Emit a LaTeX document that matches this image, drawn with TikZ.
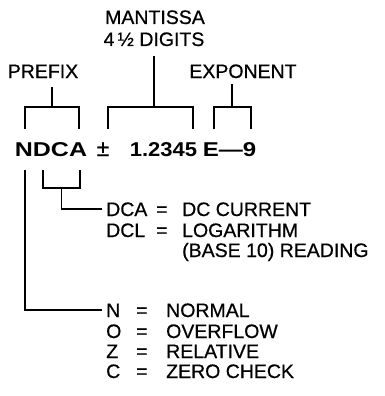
\documentclass[tikz,border=0pt]{standalone}
\usepackage{fontspec}
\usepackage{graphicx}
\setmainfont{Liberation Sans}
\newfontfamily\scanfont{Liberation Sans}[FakeBold=0.6]
\usetikzlibrary{positioning}

% one row of a code list: code, equals sign, meaning
\newcommand{\rowa}[2]{\makebox[50pt][l]{#1}\makebox[26pt][l]{=}#2}
\newcommand{\rowb}[2]{\makebox[30pt][l]{#1}\makebox[30pt][l]{=}#2}
% the readout type is wider than the bold face
\newcommand{\wide}[2]{\scalebox{#1}[1]{#2}}

\tikzset{
  fieldname/.style={font=\scanfont\fontsize{19.5}{21}\selectfont, inner sep=0pt, anchor=base},
  readout/.style={font=\fontsize{20}{24}\selectfont\bfseries, inner sep=0pt, anchor=base},
  rowtext/.style={font=\scanfont\fontsize{19.5}{21}\selectfont, inner sep=0pt, anchor=base west},
  bracket/.style={line width=1.8pt, line join=miter}
}

\begin{document}
\begin{tikzpicture}[x=1pt, y=-1pt]
  \useasboundingbox (0,0) rectangle (384,396);

  % field names
  \node[fieldname] (mant) at (155,24) {MANTISSA};
  \node[fieldname] (digits) at (154,46) {4\,½ DIGITS};
  \node[fieldname] (prefix) at (43,78) {PREFIX};
  \node[fieldname] (expo) at (243,78) {EXPONENT};

  % the readout
  \node[readout] (ndca) at (51,156) {\wide{1.25}{NDCA}};
  \node[fieldname, font=\scanfont\fontsize{23}{24}\selectfont] (pm) at (103,156) {±};
  \node[readout] (mval) at (163.5,156) {\wide{1.1}{1.2345}};
  \node[readout] (eval) at (229.5,156) {\wide{1.2}{E—9}};

  % brackets above
  \coordinate (pfxL) at (25,129);
  \coordinate (pfxR) at (79,129);
  \coordinate (pfxT) at (52,107);
  \draw[bracket] (pfxL) -- ++(0,-22) -| (pfxR);
  \draw[bracket, shorten >=9pt] (pfxT) -- (pfxT |- prefix.south);

  \coordinate (manL) at (108,129);
  \coordinate (manR) at (193,129);
  \coordinate (manT) at (154,107);
  \draw[bracket] (manL) -- ++(0,-22) -| (manR);
  \draw[bracket, shorten >=10pt] (manT) -- (manT |- digits.south);

  \coordinate (expL) at (214,129);
  \coordinate (expR) at (251,129);
  \coordinate (expT) at (232,107);
  \draw[bracket] (expL) -- ++(0,-22) -| (expR);
  \draw[bracket, shorten >=6pt] (expT) -- (expT |- expo.south);

  % code lists
  \node[rowtext] (dcarow) at (106,216) {\rowa{DCA}{DC CURRENT}};
  \node[rowtext] (dclrow) at (106,237) {\rowa{DCL}{LOGARITHM}};
  \node[rowtext] (baserow) at (182,257) {(BASE 10) READING};

  \node[rowtext] (nrow) at (106,317) {\rowb{N}{NORMAL}};
  \node[rowtext] (orow) at (106,338) {\rowb{O}{OVERFLOW}};
  \node[rowtext] (zrow) at (106,358) {\rowb{Z}{RELATIVE}};
  \node[rowtext] (crow) at (106,378) {\rowb{C}{ZERO CHECK}};

  % brackets below
  \coordinate (dcaL) at (43,170);
  \coordinate (dcaR) at (80,170);
  \coordinate (dcaB) at (61.5,188);
  \draw[bracket] (dcaL) -- ++(0,18) -| (dcaR);
  \draw[bracket] (dcaB) |- ([xshift=-4pt]dcarow.west);

  \coordinate (nleg) at (25,170);
  \draw[bracket] (nleg) |- ([xshift=-4pt]nrow.west);
\end{tikzpicture}
\end{document}
